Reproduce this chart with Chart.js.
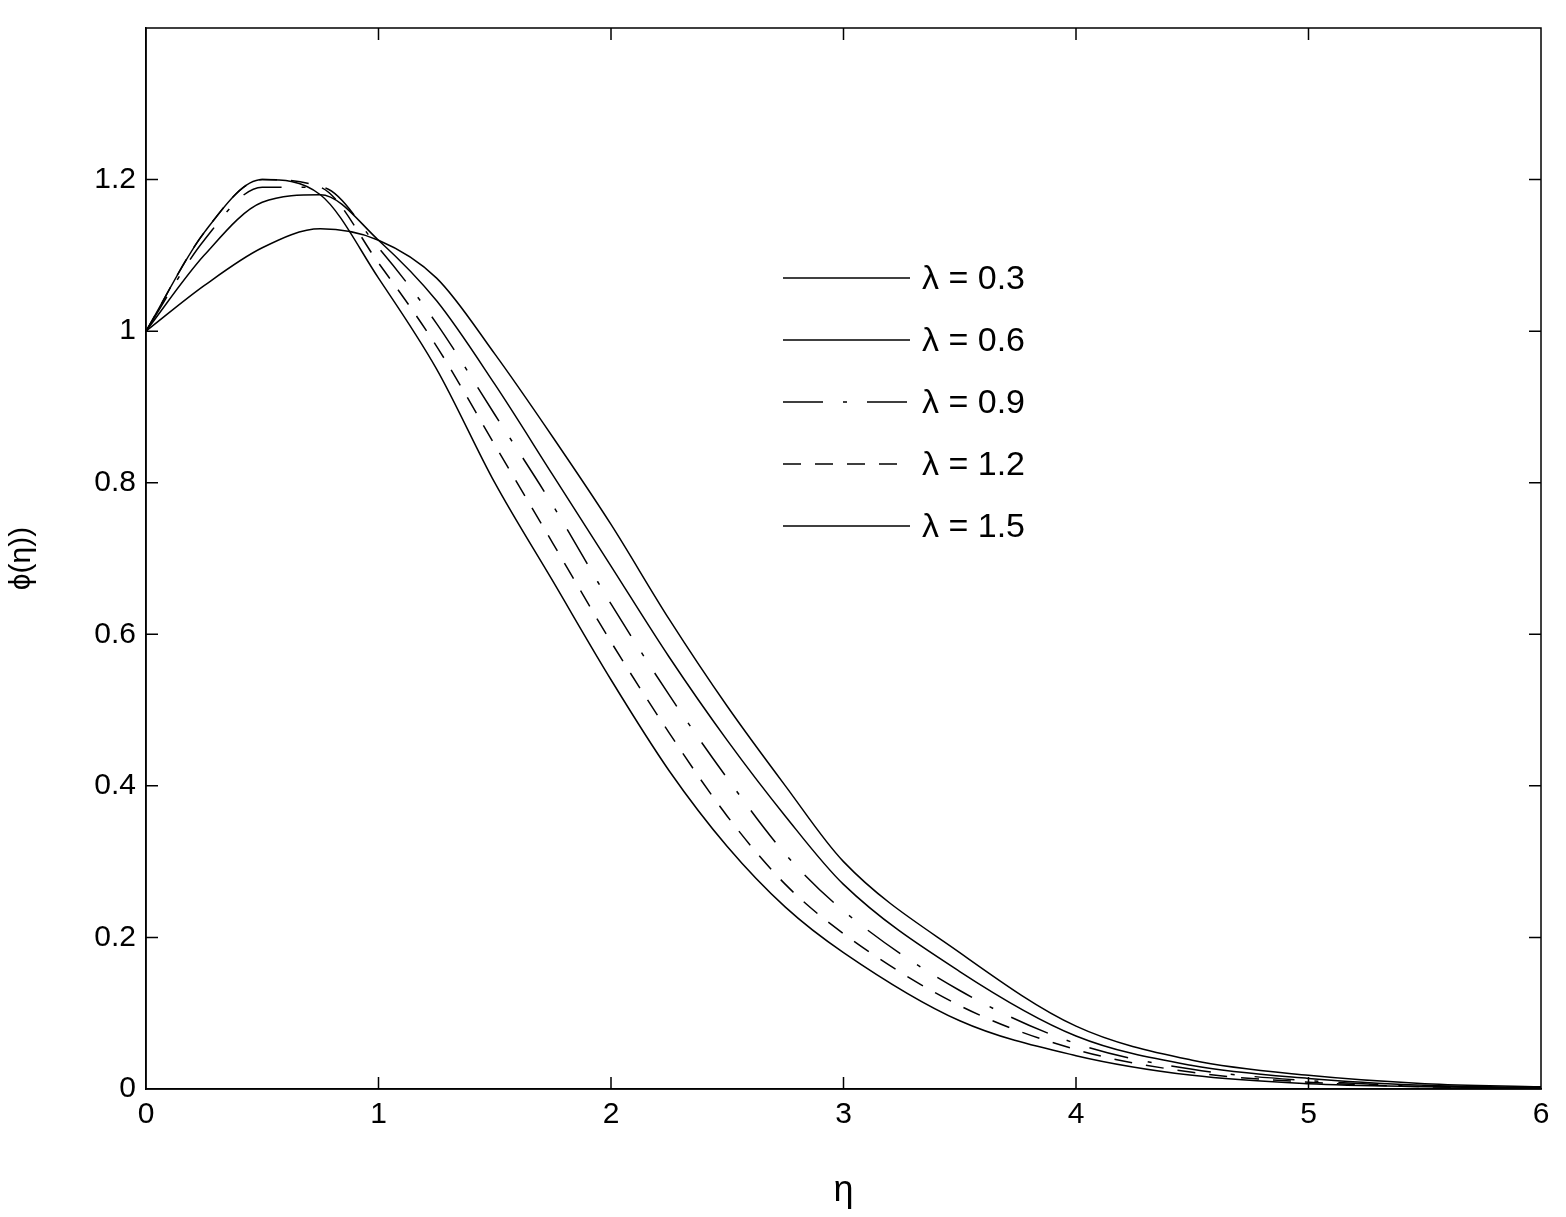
<!DOCTYPE html><html><head><meta charset="utf-8">
<script src="https://cdn.jsdelivr.net/npm/chart.js@4"></script>
<style>body{margin:0;background:#fff}#w{width:1566px;height:1217px}</style></head><body>
<div id="w"><canvas id="c"></canvas></div>
<script>
const eta=[0,0.25,0.5,0.75,1,1.25,1.5,1.75,2,2.25,2.5,2.75,3,3.5,4,4.5,5,5.5,6];
const labels=['λ = 0.3','λ = 0.6','λ = 0.9','λ = 1.2','λ = 1.5'];
const s03=[1,1.06,1.11,1.135,1.12,1.07,0.97,0.86,0.745,0.62,0.505,0.40,0.30,0.18,0.083,0.038,0.018,0.007,0.003];
const s06=[1,1.10,1.17,1.18,1.12,1.04,0.93,0.81,0.69,0.57,0.46,0.36,0.27,0.155,0.07,0.031,0.014,0.005,0.002];
const s09=[1,1.12,1.19,1.19,1.11,1.01,0.89,0.77,0.64,0.52,0.41,0.31,0.235,0.13,0.06,0.026,0.011,0.004,0.002];
const s12=[1,1.13,1.2,1.19,1.09,0.98,0.85,0.72,0.59,0.47,0.36,0.27,0.205,0.11,0.052,0.022,0.009,0.003,0.001];
const s15=[1,1.13,1.2,1.18,1.07,0.95,0.80,0.67,0.54,0.42,0.32,0.24,0.18,0.09,0.044,0.018,0.007,0.003,0.001];
const series=[s03,s06,s09,s12,s15];
const dashes=[[],[],[40,20,4,20],[18,14],[]];
const legendPlugin={id:'lg',afterDraw(ch){const x=ch.ctx;x.save();x.strokeStyle='#000';x.lineWidth=1.5;x.fillStyle='#000';x.font='34px Arial';x.textBaseline='middle';
labels.forEach((l,i)=>{const y=278+i*62;x.setLineDash(dashes[i]);x.beginPath();x.moveTo(783,y);x.lineTo(910,y);x.stroke();x.setLineDash([]);x.fillText(l,922,y+2);});x.restore();}};
new Chart(document.getElementById('c'),{type:'line',
data:{datasets:series.map((s,i)=>({label:labels[i],data:eta.map((e,j)=>({x:e,y:s[j]})),borderColor:'#000',borderWidth:1.5,borderDash:dashes[i],pointRadius:0,cubicInterpolationMode:'monotone',fill:false}))},
options:{animation:false,responsive:true,maintainAspectRatio:false,
layout:{padding:{left:0,right:25,top:15,bottom:0}},
plugins:{legend:{display:false},tooltip:{enabled:false}},
scales:{x:{type:'linear',min:0,max:6,afterFit(s){s.height=128;},border:{color:'#000',width:1.5},grid:{drawOnChartArea:false,drawTicks:false},ticks:{stepSize:1,color:'#000',font:{size:30,family:'Arial'},padding:8},title:{display:true,text:'η',color:'#000',font:{size:36,family:'Arial'},padding:{top:18}}},
y:{min:0,max:1.4,afterFit(s){s.width=146;},border:{color:'#000',width:1.5},grid:{drawOnChartArea:false,drawTicks:false},ticks:{stepSize:0.2,color:'#000',font:{size:30,family:'Arial'},padding:10,callback:v=>Math.abs(v-1.4)<1e-6?'':(Math.abs(v-Math.round(v))<1e-6?String(Math.round(v)):v.toFixed(1))},title:{display:true,text:'ϕ(η))',color:'#000',font:{size:30,family:'Arial'}}}}},
plugins:[legendPlugin,{id:'frame',afterDraw(ch){const a=ch.chartArea,x=ch.ctx;x.save();x.strokeStyle='#000';x.lineWidth=1.5;x.strokeRect(a.left,a.top,a.right-a.left,a.bottom-a.top);
[1,2,3,4,5].forEach(v=>{const px=ch.scales.x.getPixelForValue(v);x.beginPath();x.moveTo(px,a.top);x.lineTo(px,a.top+12);x.moveTo(px,a.bottom);x.lineTo(px,a.bottom-12);x.stroke();});
[0.2,0.4,0.6,0.8,1,1.2].forEach(v=>{const py=ch.scales.y.getPixelForValue(v);x.beginPath();x.moveTo(a.right,py);x.lineTo(a.right-12,py);x.moveTo(a.left,py);x.lineTo(a.left+12,py);x.stroke();});x.restore();}}]});
</script></body></html>
